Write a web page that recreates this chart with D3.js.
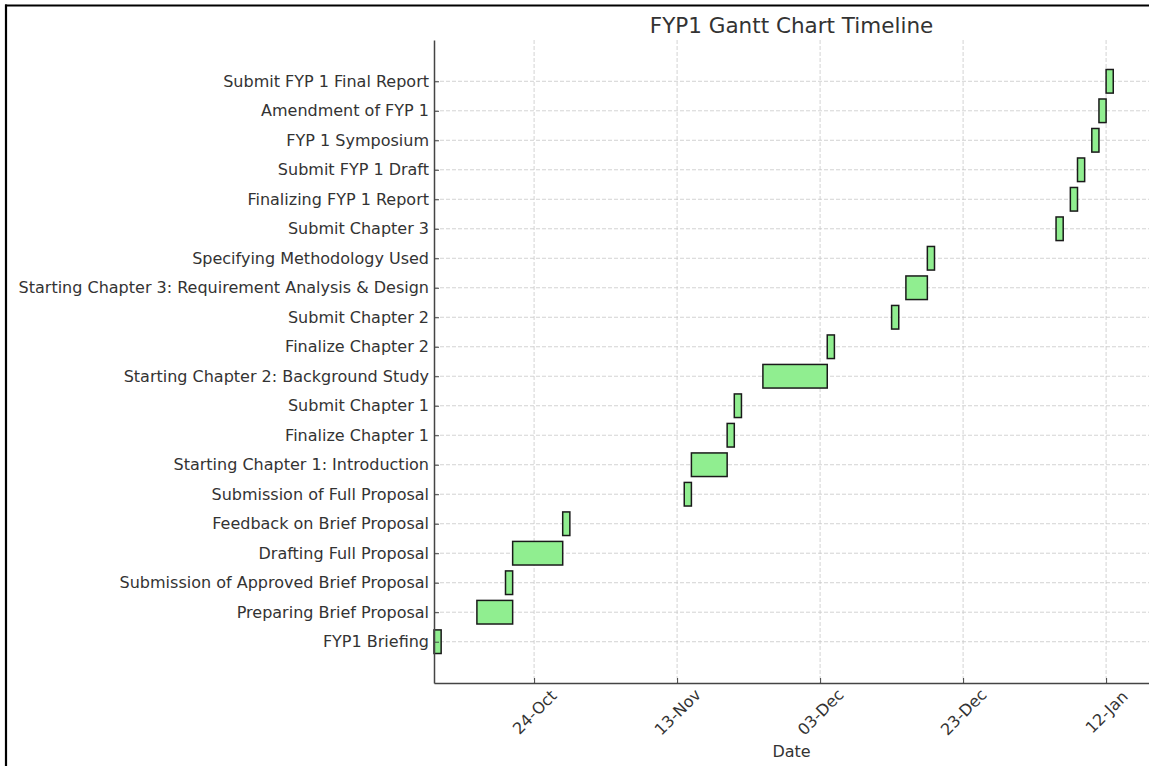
<!DOCTYPE html>
<html>
<head>
<meta charset="utf-8">
<script src="https://cdn.jsdelivr.net/npm/d3@7"></script>
<style>
  body { margin: 0; background: #fff; }
  svg { display: block; font-family: "DejaVu Sans", sans-serif; }
</style>
</head>
<body>
<div id="gantt"></div>
<script>
// task list, bottom row first
var tasks = [
    "FYP1 Briefing",
    "Preparing Brief Proposal",
    "Submission of Approved Brief Proposal",
    "Drafting Full Proposal",
    "Feedback on Brief Proposal",
    "Submission of Full Proposal",
    "Starting Chapter 1: Introduction",
    "Finalize Chapter 1",
    "Submit Chapter 1",
    "Starting Chapter 2: Background Study",
    "Finalize Chapter 2",
    "Submit Chapter 2",
    "Starting Chapter 3: Requirement Analysis & Design",
    "Specifying Methodology Used",
    "Submit Chapter 3",
    "Finalizing FYP 1 Report",
    "Submit FYP 1 Draft",
    "FYP 1 Symposium",
    "Amendment of FYP 1",
    "Submit FYP 1 Final Report"
];

var startDates = [
    "2023-10-10", "2023-10-16", "2023-10-20", "2023-10-21", "2023-10-28",
    "2023-11-14", "2023-11-15", "2023-11-20", "2023-11-21", "2023-11-25",
    "2023-12-04", "2023-12-13", "2023-12-15", "2023-12-18", "2024-01-05",
    "2024-01-07", "2024-01-08", "2024-01-10", "2024-01-11", "2024-01-12"
];

var endDates = [
    "2023-10-11", "2023-10-21", "2023-10-21", "2023-10-28", "2023-10-29",
    "2023-11-15", "2023-11-20", "2023-11-21", "2023-11-22", "2023-12-04",
    "2023-12-05", "2023-12-14", "2023-12-18", "2023-12-19", "2024-01-06",
    "2024-01-08", "2024-01-09", "2024-01-11", "2024-01-12", "2024-01-13"
];

var tickDates = ["2023-10-24", "2023-11-13", "2023-12-03", "2023-12-23", "2024-01-12"];

var svgWidth = 1149;
var svgHeight = 766;
var margin = {
    top: 40,
    right: 0,
    bottom: 83,
    left: 434
};

var width = svgWidth - margin.left - margin.right;
var height = svgHeight - margin.top - margin.bottom;

var parseDate = d3.utcParse("%Y-%m-%d");

var rows = tasks.map(function(t, i) {
    return {task: t, idx: i, start: parseDate(startDates[i]), end: parseDate(endDates[i])};
});

var svg = d3.select("#gantt")
    .append("svg")
    .attr("width", svgWidth)
    .attr("height", svgHeight);

// outer frame (only top and left edges visible in the picture)
svg.append("line")
    .attr("x1", 5).attr("x2", svgWidth).attr("y1", 5.5).attr("y2", 5.5)
    .attr("stroke", "#000").attr("stroke-width", 2.2);
svg.append("line")
    .attr("x1", 6).attr("x2", 6).attr("y1", 4.5).attr("y2", svgHeight)
    .attr("stroke", "#000").attr("stroke-width", 2.2);

var chartGroup = svg.append("g")
    .attr("transform", `translate(${margin.left},${margin.top})`);

var xScale = d3.scaleUtc()
    .domain([parseDate("2023-10-10"), parseDate("2024-01-18")])
    .range([0, width]);

var yScale = d3.scaleLinear()
    .domain([-1.4, 20.4])
    .range([height, 0]);

// grid lines
chartGroup.append("g")
    .attr("class", "grid")
    .selectAll("line.v")
    .data(tickDates.map(parseDate))
    .enter()
    .append("line")
    .attr("x1", d => xScale(d)).attr("x2", d => xScale(d))
    .attr("y1", 0).attr("y2", height);

chartGroup.append("g")
    .attr("class", "grid")
    .selectAll("line.h")
    .data(rows)
    .enter()
    .append("line")
    .attr("x1", 0).attr("x2", width)
    .attr("y1", d => yScale(d.idx)).attr("y2", d => yScale(d.idx));

chartGroup.selectAll(".grid line")
    .attr("stroke", "#c8c8c8")
    .attr("stroke-width", 0.8)
    .attr("stroke-dasharray", "4,2");

// bars
var barH = yScale(0) - yScale(0.8);
chartGroup.selectAll("rect.bar")
    .data(rows)
    .enter()
    .append("rect")
    .attr("class", "bar")
    .attr("x", d => xScale(d.start))
    .attr("y", d => yScale(d.idx + 0.4))
    .attr("width", d => xScale(d.end) - xScale(d.start))
    .attr("height", barH)
    .attr("fill", "#90ee90")
    .attr("stroke", "#1a1a1a")
    .attr("stroke-width", 1.5);

// axes
var bottomAxis = d3.axisBottom(xScale)
    .tickValues(tickDates.map(parseDate))
    .tickFormat(d3.utcFormat("%d-%b"))
    .tickSizeInner(-5)
    .tickSizeOuter(0);

var leftAxis = d3.axisLeft(yScale)
    .tickValues(d3.range(tasks.length))
    .tickFormat(i => tasks[i])
    .tickSizeInner(-5)
    .tickSizeOuter(0)
    .tickPadding(5);

var xAxis = chartGroup.append("g")
    .attr("transform", `translate(0,${height})`)
    .call(bottomAxis);

var yAxis = chartGroup.append("g")
    .call(leftAxis);

chartGroup.selectAll(".domain")
    .attr("stroke", "#444")
    .attr("stroke-width", 1.5);
chartGroup.selectAll(".tick line")
    .attr("stroke", "#444")
    .attr("stroke-width", 1);
chartGroup.selectAll(".tick text")
    .attr("fill", "#333")
    .style("font-size", "16px")
    .style("font-family", "DejaVu Sans, sans-serif");

xAxis.selectAll("text")
    .attr("y", 0)
    .attr("dy", "0.35em")
    .attr("text-anchor", "middle")
    .attr("transform", "translate(0,29) rotate(-45)");

// labels
svg.append("text")
    .attr("x", margin.left + width / 2)
    .attr("y", 33)
    .attr("text-anchor", "middle")
    .attr("fill", "#333")
    .style("font-size", "21.5px")
    .text("FYP1 Gantt Chart Timeline");

svg.append("text")
    .attr("x", margin.left + width / 2)
    .attr("y", 757)
    .attr("text-anchor", "middle")
    .attr("fill", "#333")
    .style("font-size", "16px")
    .text("Date");
</script>
</body>
</html>
